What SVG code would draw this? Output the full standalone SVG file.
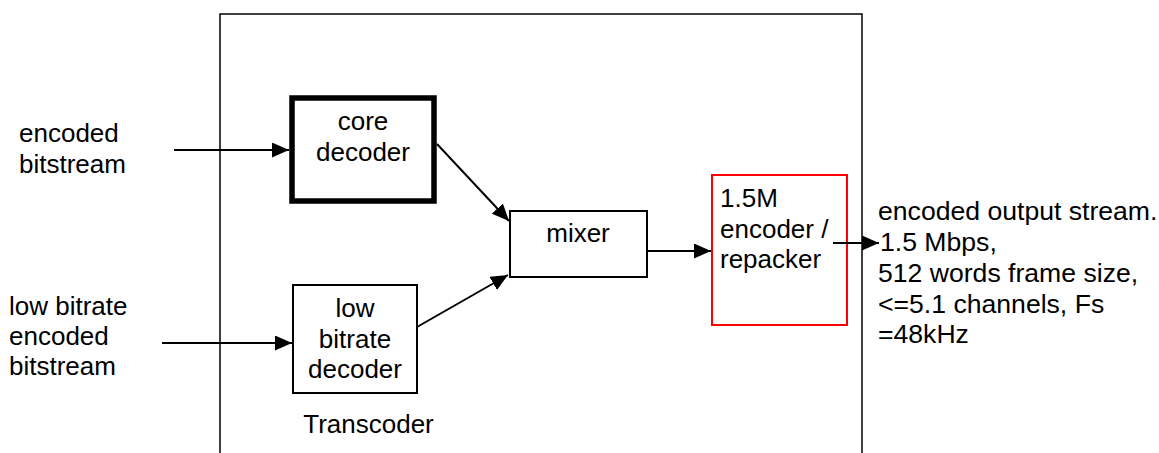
<svg xmlns="http://www.w3.org/2000/svg" width="1159" height="453" viewBox="0 0 1159 453">
<style>
text{font-family:"Liberation Sans",Arial,sans-serif;font-size:26px;fill:#000}
.c{text-anchor:middle}
.o{font-size:26.6px}
.box{fill:#fff;stroke:#000;stroke-width:2}
.ln{fill:none;stroke:#000;stroke-width:2;marker-end:url(#ah)}
</style>
<defs>
<marker id="ah" markerUnits="userSpaceOnUse" markerWidth="17" markerHeight="15" refX="17" refY="7.5" orient="auto">
<path d="M0,0 L17,7.5 L0,15 z" fill="#000"/>
</marker>
</defs>
<rect width="1159" height="453" fill="#fff"/>
<g id="transcoder">
<rect x="220" y="14" width="642" height="460" fill="none" stroke="#000" stroke-width="1.5"/>
<text class="c" x="368.5" y="433">Transcoder</text>
</g>
<g id="in1">
<text x="19" y="142">encoded</text>
<text x="19" y="172.5">bitstream</text>
</g>
<g id="in2">
<text x="9" y="315">low bitrate</text>
<text x="9" y="345">encoded</text>
<text x="9" y="375">bitstream</text>
</g>
<g id="core">
<rect x="292" y="98" width="142" height="103" fill="#fff" stroke="#000" stroke-width="5.5"/>
<text class="c" x="363" y="130">core</text>
<text class="c" x="363" y="161">decoder</text>
</g>
<g id="low">
<rect class="box" x="293" y="285" width="124" height="108"/>
<text class="c" x="355" y="317">low</text>
<text class="c" x="355" y="347.5">bitrate</text>
<text class="c" x="355" y="377.5">decoder</text>
</g>
<g id="mixer">
<rect class="box" x="510" y="211" width="137" height="66"/>
<text class="c" x="578" y="242">mixer</text>
</g>
<g id="encoder">
<rect x="712" y="175" width="135" height="150" fill="none" stroke="#f00" stroke-width="2"/>
<text x="720" y="207">1.5M</text>
<text x="720" y="237.5">encoder /</text>
<text x="720" y="268">repacker</text>
</g>
<g id="out">
<text class="o" x="878" y="220">encoded output stream.</text>
<text class="o" x="880" y="251">1.5 Mbps,</text>
<text class="o" x="878" y="282">512 words frame size,</text>
<text class="o" x="878" y="312.5">&lt;=5.1 channels, Fs</text>
<text class="o" x="878" y="343">=48kHz</text>
</g>
<g id="connectors">
<line class="ln" x1="174" y1="150" x2="289" y2="150"/>
<line class="ln" x1="162" y1="343" x2="292" y2="343"/>
<line class="ln" x1="437" y1="144" x2="509" y2="221"/>
<line class="ln" x1="417" y1="327" x2="508" y2="275"/>
<line class="ln" x1="647" y1="251" x2="711" y2="251"/>
<line class="ln" x1="833" y1="243" x2="879" y2="243"/>
</g>
</svg>
